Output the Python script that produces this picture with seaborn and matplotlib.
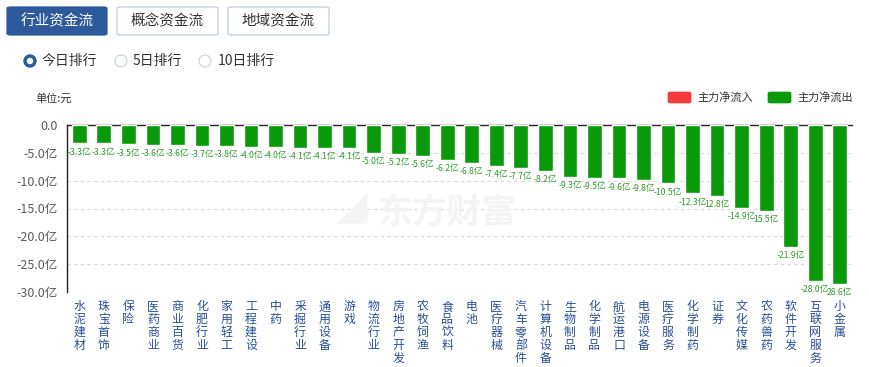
import matplotlib
matplotlib.use("Agg")
import matplotlib.pyplot as plt
import seaborn as sns
import pandas as pd
from matplotlib.patches import FancyBboxPatch, Ellipse

sns.set_theme(style="white")
plt.rcParams['font.family'] = ['Noto Sans CJK SC', 'DejaVu Sans']
plt.rcParams['axes.unicode_minus'] = False

categories = ["水泥建材", "珠宝首饰", "保险", "医药商业", "商业百货", "化肥行业", "家用轻工", "工程建设",
              "中药", "采掘行业", "通用设备", "游戏", "物流行业", "房地产开发", "农牧饲渔", "食品饮料",
              "电池", "医疗器械", "汽车零部件", "计算机设备", "生物制品", "化学制品", "航运港口", "电源设备",
              "医疗服务", "化学制药", "证券", "文化传媒", "农药兽药", "软件开发", "互联网服务", "小金属"]
values = [-3.3, -3.3, -3.5, -3.6, -3.6, -3.7, -3.8, -4.0, -4.0, -4.1, -4.1, -4.1, -5.0, -5.2, -5.6, -6.2,
          -6.8, -7.4, -7.7, -8.2, -9.3, -9.5, -9.6, -9.8, -10.5, -12.3, -12.8, -14.9, -15.5, -21.9, -28.0, -28.6]
# labels whose minus sign is hidden behind the neighbouring label in the reference
hidden_minus = ["证券", "农药兽药", "小金属"]
yticks = [0, -5, -10, -15, -20, -25, -30]
ytick_labels = ["0.0", "-5.0亿", "-10.0亿", "-15.0亿", "-20.0亿", "-25.0亿", "-30.0亿"]

GREEN = "#0a990a"
RED = "#f23c3c"
BLUE = "#2d5a9b"

W, H = 869, 367
fig = plt.figure(figsize=(W / 100, H / 100), dpi=100)
fig.patch.set_facecolor("white")


def fx(x):
    return x / W


def fy(y):
    return 1 - y / H


ax_l, ax_r, ax_t, ax_b = 67, 852, 125, 292
ax = fig.add_axes([fx(ax_l), fy(ax_b), (ax_r - ax_l) / W, (ax_b - ax_t) / H])

df = pd.DataFrame({"cat": categories, "val": values})
sns.barplot(data=df, x="cat", y="val", color=GREEN, width=0.6, saturation=1, ax=ax, zorder=3)

ax.set_ylim(-30, 0)
ax.set_xlim(-0.5, len(categories) - 0.5)
ax.set_yticks(yticks)
ax.set_yticklabels(ytick_labels, fontsize=9, color="#5a5a5a")
ax.set_xticks(range(len(categories)))
ax.set_xticklabels(["\n".join(c) for c in categories], fontsize=8.6, color="#2a4f95", linespacing=0.98)
ax.tick_params(axis="x", length=0, pad=6)
ax.tick_params(axis="y", length=0, pad=7)
ax.set_xlabel("")
ax.set_ylabel("")
for t in ax.get_xticklabels():
    t.set_va("top")

for v in yticks[1:]:
    ax.axhline(v, color="#d9d9d9", lw=0.8, ls=(0, (3, 3)), zorder=1)

for s in ["right", "bottom"]:
    ax.spines[s].set_visible(False)
ax.spines["top"].set_color("#222222")
ax.spines["top"].set_linewidth(1)
ax.spines["left"].set_color("#222222")
ax.spines["left"].set_linewidth(1)

for i, (c, v) in enumerate(zip(categories, values)):
    lab = f"{v:.1f}亿"
    if c in hidden_minus:
        lab = lab.lstrip("-")
    ax.annotate(lab, (i, v), xytext=(0, -3), textcoords="offset points",
                ha="center", va="top", fontsize=6.2, color="#2e9a2e", zorder=4)

# watermark
fig.text(fx(447), fy(212), "东方财富", fontsize=25, fontweight="bold", color="#f4f4f4",
         ha="center", va="center", zorder=0)
fig.text(fx(352), fy(212), "◢", fontsize=22, color="#f4f4f4", ha="center", va="center", zorder=0)

# top buttons
btns = [("行业资金流", 7, 107, True), ("概念资金流", 117, 218, False), ("地域资金流", 228, 329, False)]
for txt, x0, x1, active in btns:
    p = FancyBboxPatch((fx(x0), fy(35)), fx(x1) - fx(x0), fy(7) - fy(35),
                       boxstyle="round,pad=0,rounding_size=0.004",
                       transform=fig.transFigure, facecolor=BLUE if active else "white",
                       edgecolor=BLUE if active else "#bfcde0", lw=0.9)
    fig.add_artist(p)
    fig.text(fx((x0 + x1) / 2), fy(21), txt, fontsize=10.5, ha="center", va="center",
             color="white" if active else "#333333")


def circ(cx, cy, r, **kw):
    fig.add_artist(Ellipse((fx(cx), fy(cy)), 2 * r / W, 2 * r / H,
                           transform=fig.transFigure, **kw))


# radios
radios = [("今日排行", 30, 42, True), ("5日排行", 121, 133, False), ("10日排行", 205, 218, False)]
for txt, cx, tx, active in radios:
    if active:
        circ(cx, 61, 6, facecolor=BLUE, edgecolor=BLUE)
        circ(cx, 61, 2.5, facecolor="white", edgecolor="white")
    else:
        circ(cx, 61, 6, facecolor="white", edgecolor="#c8d0da", lw=0.8)
    fig.text(fx(tx), fy(61), txt, fontsize=10, ha="left", va="center", color="#333333")

fig.text(fx(35), fy(98), "单位:元", fontsize=8, ha="left", va="center", color="#333333")

# legend
for txt, x0, col in [("主力净流入", 668, RED), ("主力净流出", 768, GREEN)]:
    p = FancyBboxPatch((fx(x0), fy(103)), fx(x0 + 23) - fx(x0), fy(92) - fy(103),
                       boxstyle="round,pad=0,rounding_size=0.003",
                       transform=fig.transFigure, facecolor=col, edgecolor=col, lw=0.5)
    fig.add_artist(p)
    fig.text(fx(x0 + 29), fy(97.5), txt, fontsize=8, ha="left", va="center", color="#333333")

fig.savefig("out.png", dpi=100, facecolor="white")
